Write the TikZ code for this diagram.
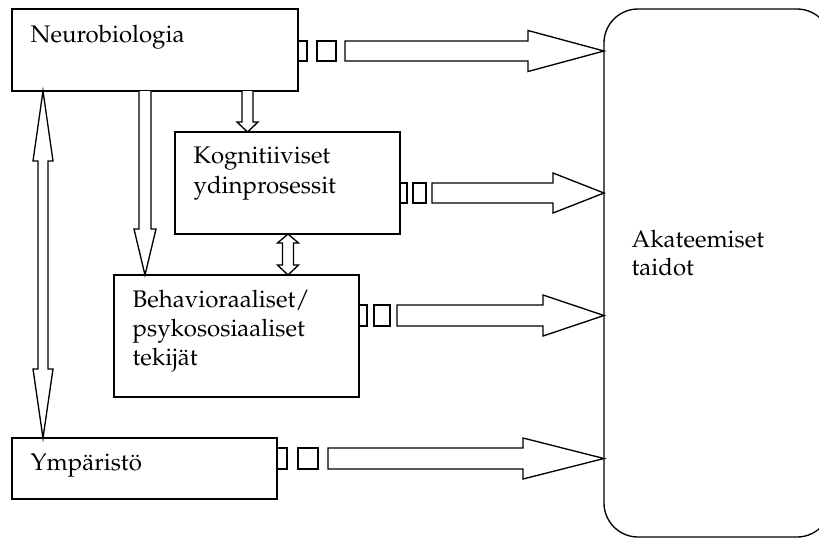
\documentclass[tikz,border=0pt]{standalone}
\usepackage[T1]{fontenc}
\usepackage{mathpazo}
\begin{document}
\begin{tikzpicture}[x=0.75pt,y=-0.75pt,line width=1pt,line join=miter,
  box/.style 2 args={draw,rectangle,anchor=north west,inner sep=0pt,outer sep=0pt,
    minimum width=0.75pt*#1,minimum height=0.75pt*#2},
  txt/.style={anchor=base west,inner sep=0pt,font=\fontsize{18}{22}\selectfont},
  blk/.style={draw,fill=white}]
\clip (0,0) rectangle (819,537);
\useasboundingbox (0,0) rectangle (819,537);
% boxes
\node[box={286}{82}] (neuro) at (12,9) {};
\node[box={225}{102}] (kogn) at (175,132) {};
\node[box={245}{122}] (behav) at (114,275) {};
\node[box={265}{61}] (ymp) at (12,438) {};
\node[box={227}{528},rounded corners=25.5pt] (akat) at (604,9) {};
% texts
\node[txt] (neurot) at (30,42) {Neurobiologia};
\node[txt] (kognt) at (193,163) {\vtop{\baselineskip=22.5pt\hbox{Kognitiiviset}\hbox{ydinprosessit}}};
\node[txt] (behavt) at (132,307) {\vtop{\baselineskip=21.75pt\hbox{Behavioraaliset/}\hbox{psykososiaaliset}\hbox{tekijät}}};
\node[txt] (ympt) at (30,470) {Ympäristö};
\node[txt] (akatt) at (631,247) {\vtop{\baselineskip=21pt\hbox{Akateemiset}\hbox{taidot}}};
% horizontal block arrows: #1 center y, #2 half shaft, #3 rect1 x0, #4 rect1 x1, #5 rect2 x0, #6 rect2 x1, #7 body x0, #8 head x0, #9 head half
\newcommand\hblock[9]{%
  \draw[blk] (#3,#1-#2) rectangle (#4,#1+#2);
  \draw[blk] (#5,#1-#2) rectangle (#6,#1+#2);
  \draw[blk] (#7,#1-#2) -- (#8,#1-#2) -- (#8,#1-#9) -- (akat.west |- 0,#1) -- (#8,#1+#9) -- (#8,#1+#2) -- (#7,#1+#2) -- cycle;}
\hblock{51}{10}{298}{307}{317}{336}{345}{528}{20.5}
\hblock{193}{10}{400}{407}{413}{426}{432}{553}{20}
\hblock{315.5}{10.5}{359}{367}{374}{390}{397}{543}{20.5}
\hblock{458.5}{10.5}{277}{287}{298}{318}{328}{523}{20.5}
% vertical down arrows: #1 cx, #2 y start, #3 head start, #4 tip, #5 half shaft, #6 half head
\newcommand\vdown[6]{%
  \draw[blk] (#1-#5,#2) -- (#1-#5,#3) -- (#1-#6,#3) -- (#1,#4) -- (#1+#6,#3) -- (#1+#5,#3) -- (#1+#5,#2);}
\vdown{247.5}{91}{122}{132}{5.5}{10.5}
\vdown{145}{91}{229}{275}{6}{11}
% double arrows: #1 cx, #2 top tip, #3 top base, #4 bottom base, #5 bottom tip, #6 half shaft, #7 half head
\newcommand\vdouble[7]{%
  \draw[blk] (#1,#2) -- (#1+#7,#3) -- (#1+#6,#3) -- (#1+#6,#4) -- (#1+#7,#4) -- (#1,#5) -- (#1-#7,#4) -- (#1-#6,#4) -- (#1-#6,#3) -- (#1-#7,#3) -- cycle;}
\vdouble{288}{234}{243}{265}{275}{5.5}{10.5}
\vdouble{43}{91}{161}{369}{438}{5}{10}
\end{tikzpicture}
\end{document}
